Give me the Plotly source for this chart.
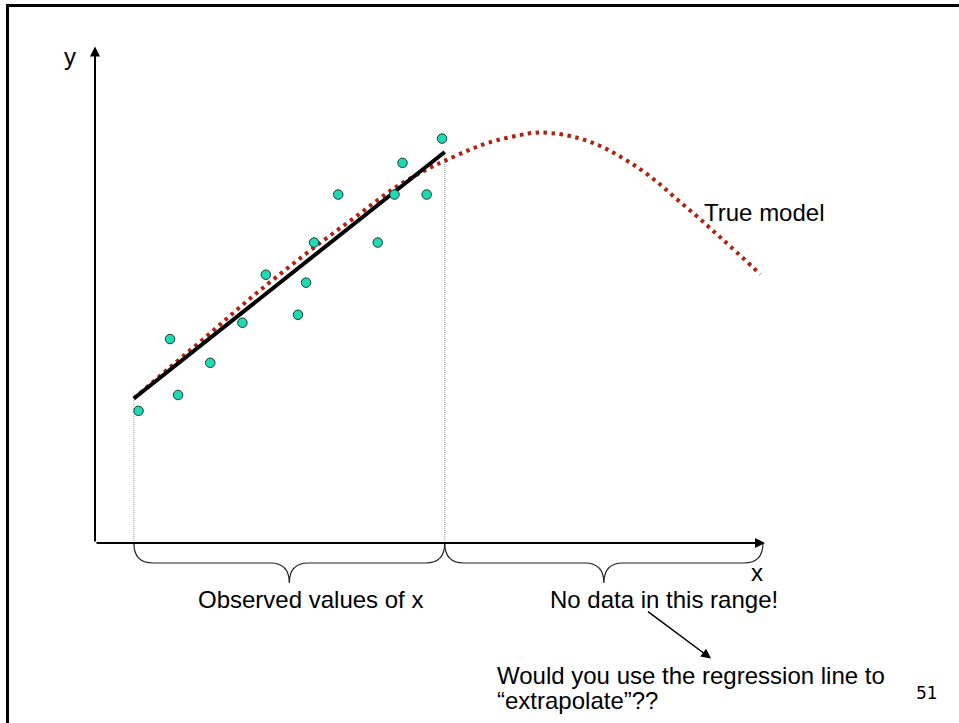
import plotly.graph_objects as go

# ---- data (arbitrary units: x axis 0..10, y axis 0..10) ----
obs_x = [0.65, 1.12, 1.24, 1.72, 2.20, 2.55, 3.03, 3.15, 3.27, 3.63, 4.22, 4.47, 4.59, 4.95, 5.18]
obs_y = [2.67, 4.12, 2.99, 3.64, 4.45, 5.42, 4.61, 5.26, 6.07, 7.04, 6.07, 7.04, 7.68, 7.04, 8.17]

reg_x = [0.58, 5.22]
reg_y = [2.92, 7.90]

true_x = [0.58, 1.12, 1.67, 2.21, 2.76, 3.33, 3.91, 4.50, 5.03, 5.22, 5.55, 5.88, 6.34,
          6.58, 6.82, 7.16, 7.51, 7.82, 8.13, 8.41, 8.68, 8.96, 9.23, 9.50, 9.93]
true_y = [2.92, 3.55, 4.18, 4.82, 5.43, 6.03, 6.61, 7.20, 7.60, 7.72, 7.92, 8.09, 8.24,
          8.29, 8.28, 8.20, 8.04, 7.82, 7.56, 7.27, 6.95, 6.63, 6.30, 5.97, 5.43]

brace_ranges = [(0.58, 5.22), (5.22, 9.97)]
brace_labels = ["Observed values of x", "No data in this range!"]

W, H = 959, 723
ox, oy = 95, 543          # pixel position of origin
sx, sy = 67.0, 49.5       # pixels per unit
xr = [-ox / sx, (W - ox) / sx]
yr = [-(H - oy) / sy, oy / sy]

def px_x(p):
    return (p - ox) / sx

def px_y(p):
    return (oy - p) / sy

FONT = "Liberation Sans, Arial, sans-serif"

fig = go.Figure()

# vertical guide lines at the ends of the observed range
for xv, yv in zip(reg_x, reg_y):
    fig.add_trace(go.Scatter(x=[xv, xv], y=[0, yv], mode="lines",
                             line=dict(color="#9a9a9a", width=1, dash="1px,1px"),
                             hoverinfo="skip", showlegend=False))

# true model (dotted)
fig.add_trace(go.Scatter(x=true_x, y=true_y, mode="lines",
                         line=dict(color="#B0220F", width=4, dash="3.5px,4.5px", shape="spline"),
                         hoverinfo="skip", showlegend=False))

# regression line
fig.add_trace(go.Scatter(x=reg_x, y=reg_y, mode="lines",
                         line=dict(color="black", width=4),
                         hoverinfo="skip", showlegend=False))

# observations
fig.add_trace(go.Scatter(x=obs_x, y=obs_y, mode="markers",
                         marker=dict(size=9.5, color="#1ED9B2", line=dict(color="#1a3a33", width=1)),
                         hoverinfo="skip", showlegend=False))

shapes = []
# braces
h = 20 / sy
w = 19 / sx
for (x0, x1) in brace_ranges:
    m = (x0 + x1) / 2
    path = (f"M {x0},0 Q {x0},{-h} {x0 + w},{-h} L {m - w},{-h} "
            f"Q {m},{-h} {m},{-2 * h} Q {m},{-h} {m + w},{-h} "
            f"L {x1 - w},{-h} Q {x1},{-h} {x1},0")
    shapes.append(dict(type="path", path=path, xref="x", yref="y",
                       line=dict(color="#222", width=1.2)))

# slide border
shapes.append(dict(type="rect", xref="paper", yref="paper",
                   x0=7.5 / W, x1=1.05, y0=-0.05, y1=1 - 5.5 / H,
                   line=dict(color="black", width=3), layer="above"))

annotations = []
# axes arrows
annotations.append(dict(x=10, y=0, ax=0, ay=0, xref="x", yref="y", axref="x", ayref="y",
                        text="", showarrow=True, arrowhead=2, arrowsize=1, arrowwidth=2,
                        arrowcolor="black"))
annotations.append(dict(x=0, y=10.03, ax=0, ay=0, xref="x", yref="y", axref="x", ayref="y",
                        text="", showarrow=True, arrowhead=2, arrowsize=1, arrowwidth=2,
                        arrowcolor="black"))

def txt(t, x, y, xa="center", size=24, fam=FONT):
    annotations.append(dict(x=x, y=y, xref="x", yref="y", text=t, showarrow=False,
                            xanchor=xa, yanchor="middle",
                            font=dict(family=fam, size=size, color="black")))

txt("y", px_x(70), px_y(56))
txt("x", px_x(756.5), px_y(572.5))
for lab, cx in zip(brace_labels, [310.5, 663.7]):
    txt(lab, px_x(cx), px_y(599.5))
txt("True model", px_x(702), px_y(212), xa="left")
txt("Would you use the regression line to", px_x(495), px_y(675.5), xa="left")
txt("\u201cextrapolate\u201d??", px_x(495), px_y(700.5), xa="left")
txt("51", px_x(926.5), px_y(693), size=17, fam="DejaVu Sans, Verdana, sans-serif")

# pointer arrow
annotations.append(dict(x=px_x(711), y=px_y(658.5), ax=px_x(646.5), ay=px_y(610.5),
                        xref="x", yref="y", axref="x", ayref="y",
                        text="", showarrow=True, arrowhead=2, arrowsize=1.3, arrowwidth=1.5,
                        arrowcolor="black"))

fig.update_layout(
    width=W, height=H,
    margin=dict(l=0, r=0, t=0, b=0),
    paper_bgcolor="white", plot_bgcolor="white",
    xaxis=dict(range=xr, visible=False, fixedrange=True),
    yaxis=dict(range=yr, visible=False, fixedrange=True),
    shapes=shapes, annotations=annotations,
    showlegend=False,
)

fig.write_html("out.html",
               config={"displayModeBar": False},
               post_script="document.body.style.margin='0';document.body.style.overflow='hidden';")
